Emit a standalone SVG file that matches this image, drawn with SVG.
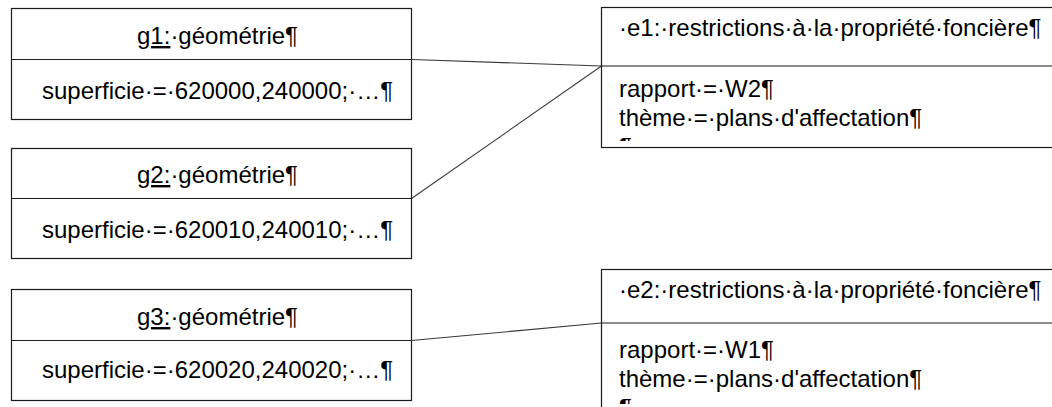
<svg xmlns="http://www.w3.org/2000/svg" width="1052" height="407" viewBox="0 0 1052 407">
  <style>
    .box { fill: #ffffff; stroke: #1a1a1a; stroke-width: 1.2; }
    .div { stroke: #1a1a1a; stroke-width: 1.2; }
    .link { stroke: #3a3a3a; stroke-width: 1.1; fill: none; }
    text { font-family: "Liberation Sans", Arial, sans-serif; font-size: 24px; fill: #000000; }
    .u { text-decoration: underline; }
  </style>
  <defs>
    <clipPath id="clipE1"><rect x="601" y="7" width="460" height="134"/></clipPath>
    <clipPath id="clipE2"><rect x="601" y="269" width="460" height="135"/></clipPath>
  </defs>
  <rect width="1052" height="407" fill="#ffffff"/>

  <!-- connectors -->
  <g id="connectors">
    <line class="link" x1="411.5" y1="59.5" x2="601.5" y2="66"/>
    <line class="link" x1="411.5" y1="198.5" x2="601.5" y2="66"/>
    <line class="link" x1="411.5" y1="340.5" x2="601.5" y2="323"/>
  </g>

  <!-- geometry objects -->
  <g id="g1">
    <rect class="box" x="11.5" y="8.5" width="400" height="111"/>
    <line class="div" x1="11.5" y1="59.5" x2="411.5" y2="59.5"/>
    <text x="137" y="44"><tspan class="u">g1:</tspan>·géométrie¶</text>
    <text x="42" y="99">superficie·=·620000,240000;·…¶</text>
  </g>
  <g id="g2">
    <rect class="box" x="11.5" y="148.5" width="400" height="110"/>
    <line class="div" x1="11.5" y1="198.5" x2="411.5" y2="198.5"/>
    <text x="137" y="183"><tspan class="u">g2:</tspan>·géométrie¶</text>
    <text x="42" y="238">superficie·=·620010,240010;·…¶</text>
  </g>
  <g id="g3">
    <rect class="box" x="11.5" y="289.5" width="400" height="111"/>
    <line class="div" x1="11.5" y1="340.5" x2="411.5" y2="340.5"/>
    <text x="137" y="325"><tspan class="u">g3:</tspan>·géométrie¶</text>
    <text x="42" y="378">superficie·=·620020,240020;·…¶</text>
  </g>

  <!-- restriction objects -->
  <g id="e1">
    <rect class="box" x="601.5" y="7.5" width="470" height="140"/>
    <line class="div" x1="601.5" y1="66" x2="1060" y2="66"/>
    <text x="619" y="36">·e1:·restrictions·à·la·propriété·foncière¶</text>
    <g clip-path="url(#clipE1)">
      <text x="619" y="97">rapport·=·W2¶</text>
      <text x="619" y="126">thème·=·plans·d'affectation¶</text>
      <text x="619" y="155">¶</text>
    </g>
  </g>
  <g id="e2">
    <rect class="box" x="601.5" y="269.5" width="470" height="160"/>
    <line class="div" x1="601.5" y1="323" x2="1060" y2="323"/>
    <text x="619" y="298">·e2:·restrictions·à·la·propriété·foncière¶</text>
    <g clip-path="url(#clipE2)">
      <text x="619" y="358">rapport·=·W1¶</text>
      <text x="619" y="387">thème·=·plans·d'affectation¶</text>
      <text x="619" y="416">¶</text>
    </g>
  </g>
</svg>
